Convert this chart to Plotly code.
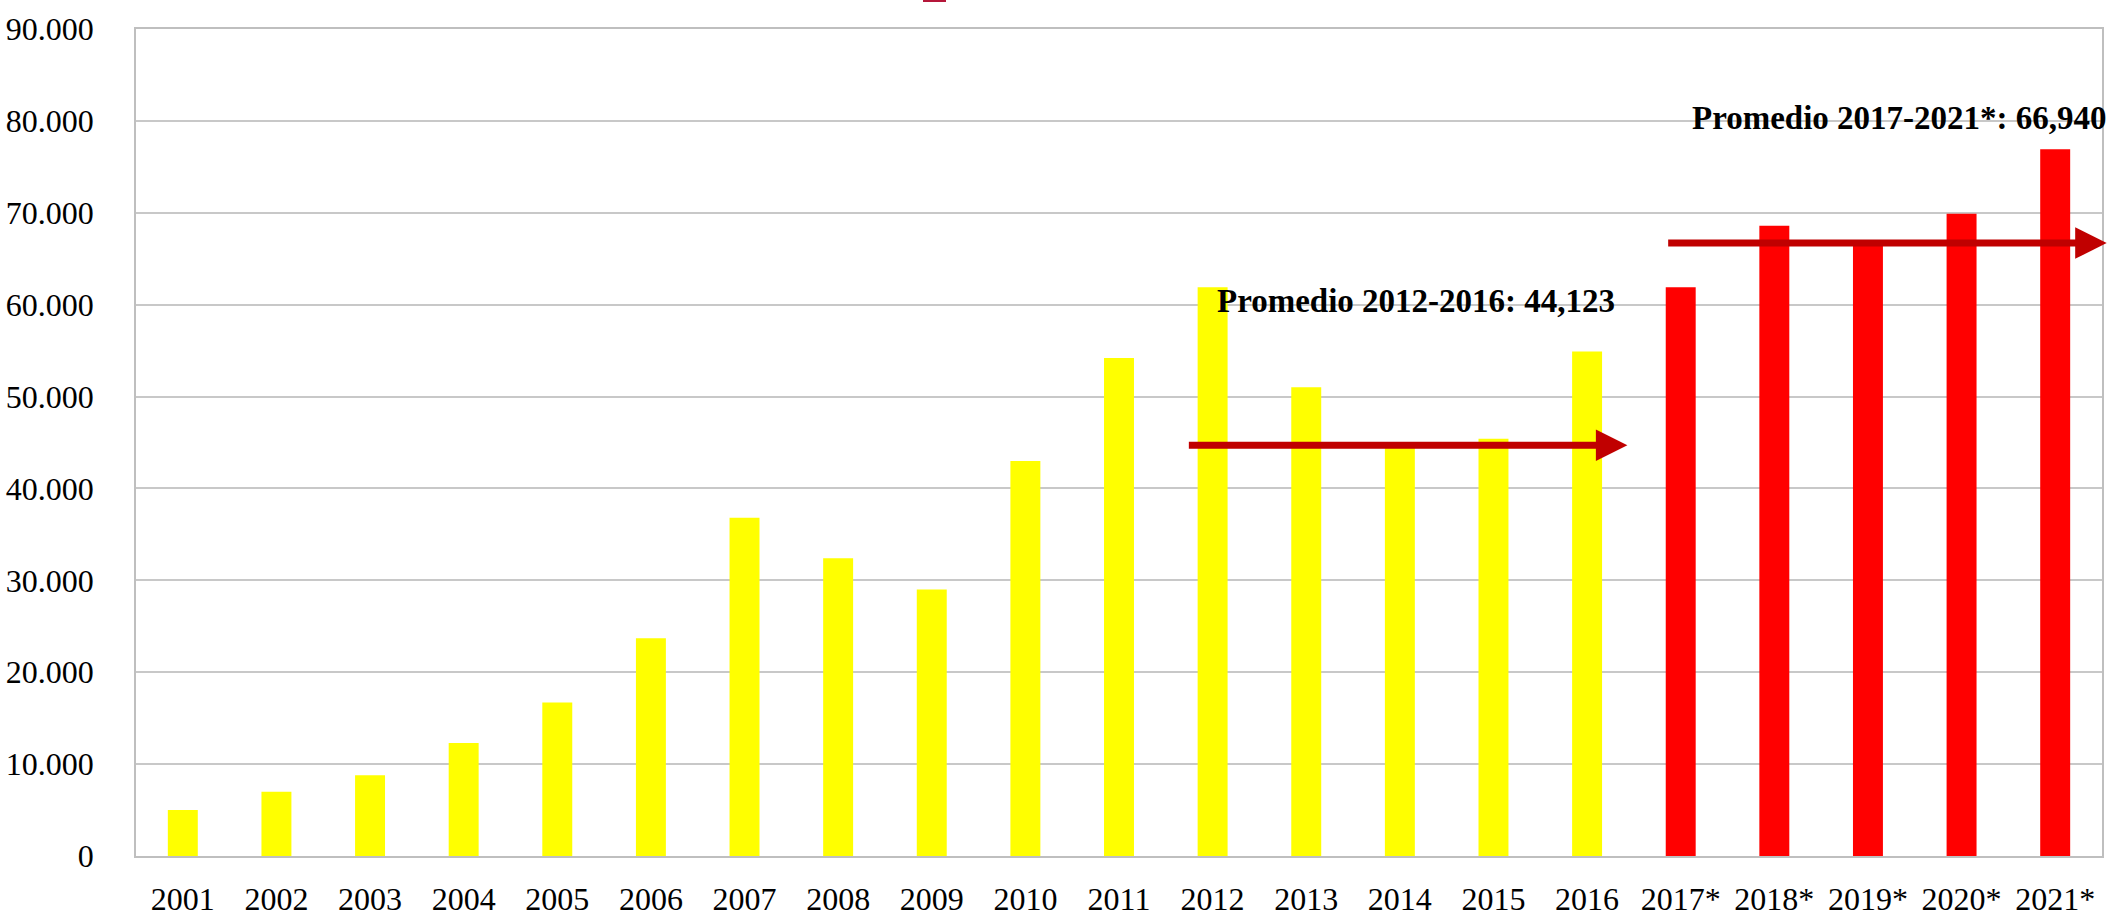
import plotly.graph_objects as go

years = ["2001", "2002", "2003", "2004", "2005", "2006", "2007", "2008", "2009", "2010",
         "2011", "2012", "2013", "2014", "2015", "2016",
         "2017*", "2018*", "2019*", "2020*", "2021*"]
values = [5000, 7000, 8800, 12300, 16700, 23700, 36800, 32400, 29000, 43000,
          54200, 61900, 51000, 44400, 45400, 54900,
          61900, 68600, 66400, 69900, 76900]
colors = ["#FFFF00"] * 16 + ["#FF0000"] * 5

avg_labels = ["Promedio 2012-2016: 44,123", "Promedio 2017-2021*: 66,940"]
arrow_levels = [44700, 66700]          # heights of the arrows as drawn
arrow_from = [10.73, 15.85]            # category position where each arrow starts
arrow_to = [15.43, 20.55]              # category position of each arrow tip
label_pos_x = [13.17, 18.34]
label_pos_y = [60400, 80300]

y_ticks = [0, 10000, 20000, 30000, 40000, 50000, 60000, 70000, 80000, 90000]
y_tick_text = ["0", "10.000", "20.000", "30.000", "40.000", "50.000",
               "60.000", "70.000", "80.000", "90.000"]

FONT = "Liberation Serif"

fig = go.Figure(go.Bar(x=years, y=values, marker=dict(color=colors, line=dict(width=0)),
                       showlegend=False))

annotations = []
for lvl, x0, x1 in zip(arrow_levels, arrow_from, arrow_to):
    annotations.append(dict(x=x1, y=lvl, ax=x0, ay=lvl, xref="x", yref="y",
                            axref="x", ayref="y", text="", showarrow=True,
                            arrowhead=2, arrowsize=0.9, arrowwidth=7,
                            arrowcolor="#C00000", standoff=0, startstandoff=0))
for txt, lx, ly in zip(avg_labels, label_pos_x, label_pos_y):
    annotations.append(dict(x=lx, y=ly, xref="x", yref="y", text="<b>" + txt + "</b>",
                            showarrow=False, xanchor="center", yanchor="middle",
                            font=dict(family=FONT, size=33, color="#000000")))

fig.update_layout(
    width=2114, height=917,
    margin=dict(l=136, r=12, t=29, b=61),
    paper_bgcolor="white", plot_bgcolor="white",
    bargap=0.68,
    font=dict(family=FONT, size=32, color="#000000"),
    annotations=annotations,
    shapes=[dict(type="rect", xref="paper", yref="paper",
                 x0=(923 - 136) / 1966, x1=(946 - 136) / 1966,
                 y0=1 + 27 / 827, y1=1 + 40 / 827,
                 fillcolor="#B5173A", line=dict(width=0), layer="above")],
)
fig.update_xaxes(type="category", range=[-0.5, len(years) - 0.5],
                 showline=True, linecolor="#BFBFBF", linewidth=2,
                 mirror=True, showgrid=False, ticks="", ticklabelstandoff=14,
                 automargin=False, tickfont=dict(family=FONT, size=32))
fig.update_yaxes(range=[0, 90000], tickvals=y_ticks, ticktext=y_tick_text,
                 showgrid=True, gridcolor="#C8C8C8", gridwidth=1.5,
                 showline=True, linecolor="#BFBFBF", linewidth=1.5, mirror=True,
                 zeroline=False, ticks="", ticklabelstandoff=34, automargin=False,
                 tickfont=dict(family=FONT, size=32))

fig.write_html("out.html", config={"displayModeBar": False},
               post_script="document.body.style.margin='0px';document.body.style.overflow='hidden';")
